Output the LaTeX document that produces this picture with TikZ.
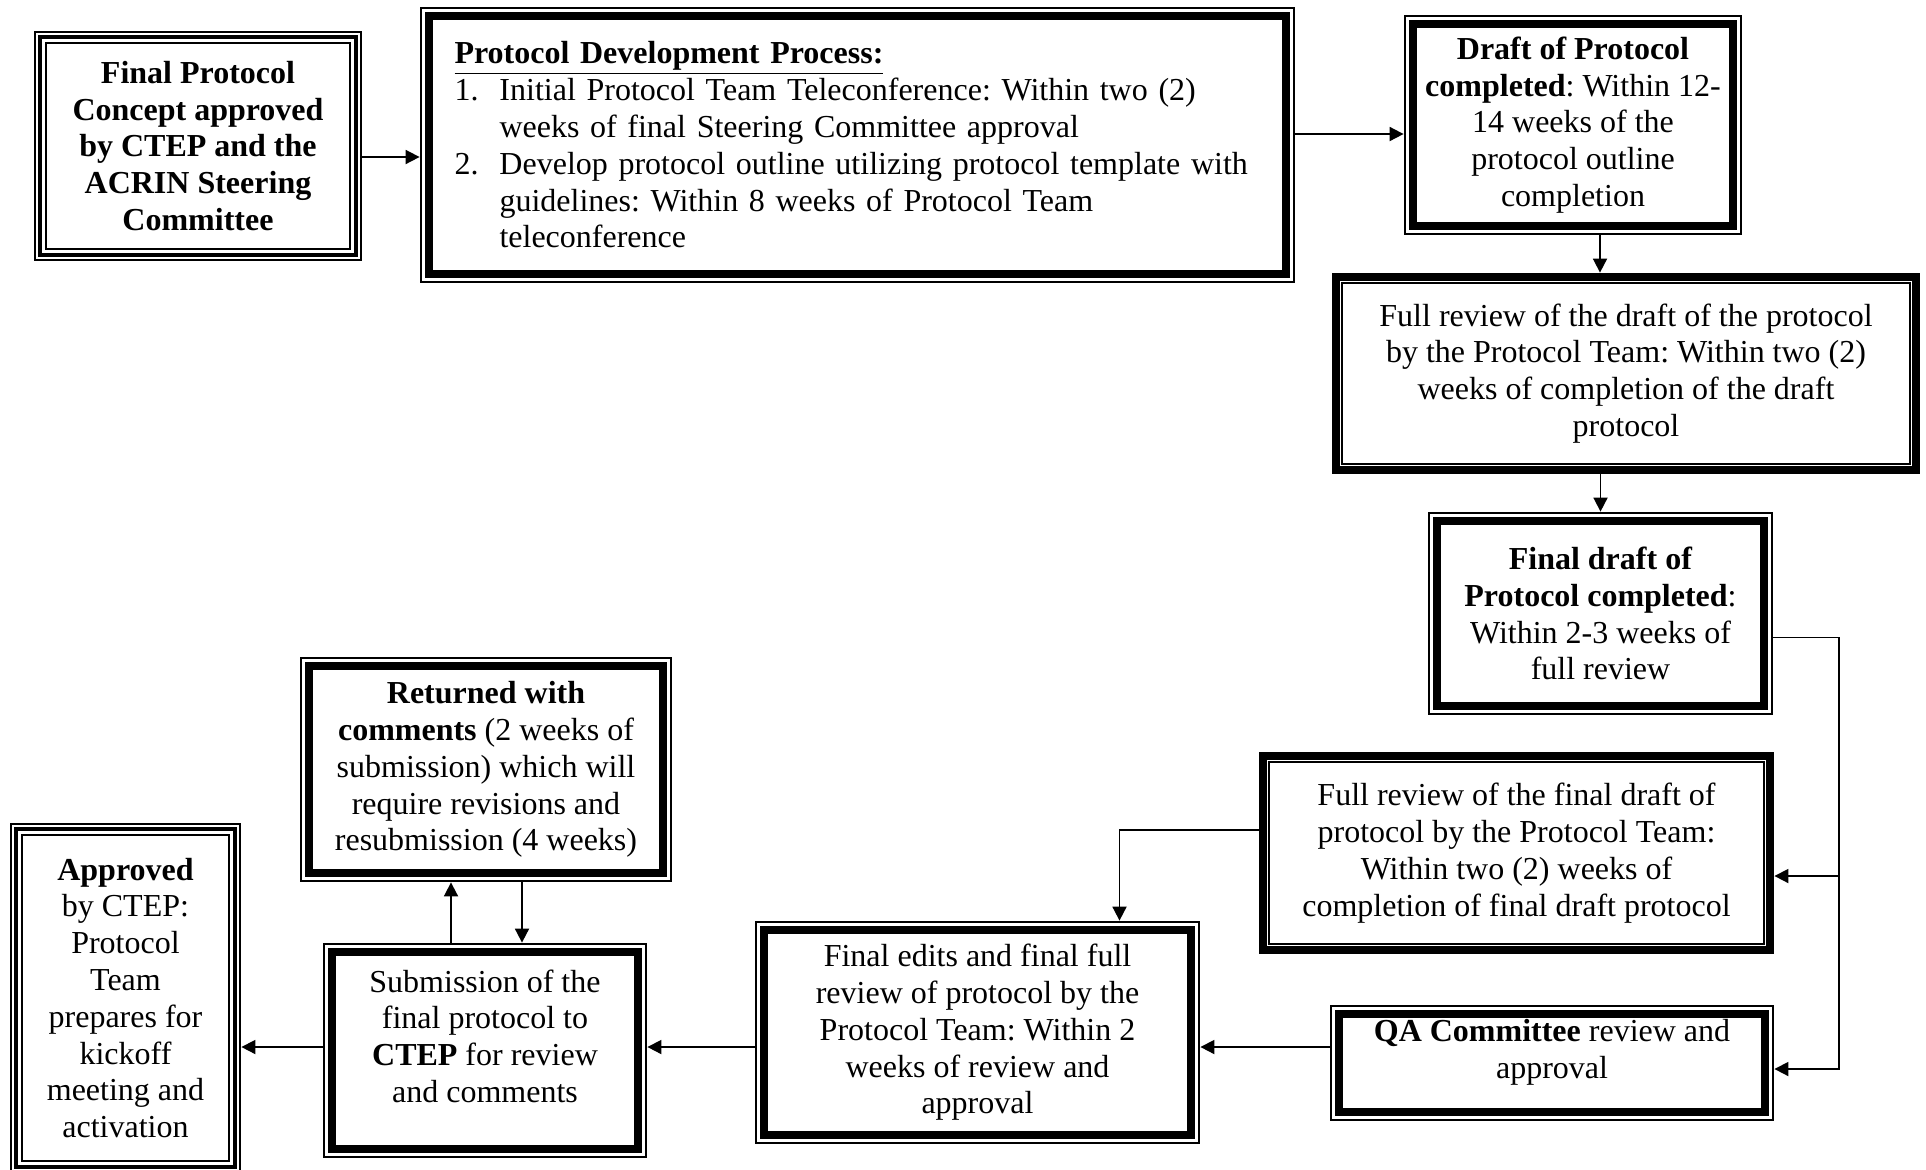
\documentclass[tikz,border=0pt]{standalone}
\usepackage{fontspec}
\setmainfont{Liberation Serif}
\usetikzlibrary{arrows.meta}

\newcommand{\inset}[3]{\draw[line width=#3] ([shift={(#2,-#2)}]#1.north west) rectangle ([shift={(-#2,#2)}]#1.south east);}

\tikzset{
  box/.style={draw=none, align=center, inner sep=0pt, font=\fontsize{16pt}{18.4pt}\selectfont\frenchspacing},
  arr/.style={-{Triangle[length=7pt,width=7pt]}, line width=0.9pt}
}

\begin{document}
\begin{tikzpicture}[x=0.5pt,y=-0.5pt]
                \path[use as bounding box, fill=white] (0,0) rectangle (1926,1169);

                \node[box, minimum width=164pt, minimum height=115pt] (concept) at (198,146)
                    {\textbf{Final Protocol}\\\textbf{Concept approved}\\\textbf{by CTEP and the}\\\textbf{ACRIN Steering}\\\textbf{Committee}};
                \node[box, minimum width=437.5pt, minimum height=138pt, text width=403pt, align=left] (process) at (857.5,145)
                    {\underline{\textbf{Protocol Development Process:}}\\
                     \makebox[22.5pt][l]{1.}Initial Protocol Team Teleconference: Within two (2)\\
                     \hspace*{22.5pt}weeks of final Steering Committee approval\\
                     \makebox[22.5pt][l]{2.}Develop protocol outline utilizing protocol template with\\
                     \hspace*{22.5pt}guidelines: Within 8 weeks of Protocol Team\\
                     \hspace*{22.5pt}teleconference};
                \node[box, minimum width=169pt, minimum height=110pt] (draft) at (1573,125)
                    {\textbf{Draft of Protocol}\\\textbf{completed}: Within 12-\\14 weeks of the\\protocol outline\\completion};
                \node[box, minimum width=294pt, minimum height=100.5pt] (review1) at (1626,373.5)
                    {Full review of the draft of the protocol\\by the Protocol Team: Within two (2)\\weeks of completion of the draft\\protocol};
                \node[box, minimum width=172.5pt, minimum height=101.5pt] (finaldraft) at (1600.5,613.5)
                    {\textbf{Final draft of}\\\textbf{Protocol completed}:\\Within 2-3 weeks of\\full review};
                \node[box, minimum width=257.5pt, minimum height=101pt] (review2) at (1516.5,853)
                    {Full review of the final draft of\\protocol by the Protocol Team:\\Within two (2) weeks of\\completion of final draft protocol};
                \node[box, minimum width=222pt, minimum height=58pt] (qa) at (1552,1063)
                    {\textbf{QA Committee} review and\\approval\\[-4pt]\mbox{}};
                \node[box, minimum width=222.5pt, minimum height=111.5pt] (finaledits) at (977.5,1032.5)
                    {Final edits and final full\\review of protocol by the\\Protocol Team: Within 2\\weeks of review and\\approval};
                \node[box, minimum width=162pt, minimum height=107.5pt] (submission) at (485,1050.5)
                    {Submission of the\\final protocol to\\\textbf{CTEP} for review\\and comments\\[-4pt]\mbox{}};
                \node[box, minimum width=186pt, minimum height=112.5pt] (returned) at (486,769.5)
                    {\textbf{Returned with}\\\textbf{comments} (2 weeks of\\submission) which will\\require revisions and\\resubmission (4 weeks)};
                \node[box, minimum width=115.5pt, minimum height=175pt] (approved) at (125.5,998)
                    {\textbf{Approved}\\by CTEP:\\Protocol\\Team\\prepares for\\kickoff\\meeting and\\activation};

                % frames
                \foreach \n in {concept,approved} {\inset{\n}{0.6pt}{1.2pt} \inset{\n}{3.2pt}{2.2pt} \inset{\n}{6.1pt}{1pt}}
                \foreach \n in {process,draft,finaldraft,qa,finaledits,submission,returned} {\inset{\n}{0.5pt}{1pt} \inset{\n}{4.7pt}{4.2pt}}
                \foreach \n in {review1,review2} {\inset{\n}{2pt}{4pt} \inset{\n}{5.25pt}{0.9pt}}

                \coordinate (row) at (0,1047);
                \coordinate (rail) at (1839,0);
                \coordinate (a1) at ([yshift=-5.5pt]concept.east);
                \coordinate (a2) at ([yshift=-4.5pt]draft.west);
                \coordinate (a3) at ([xshift=13.5pt]draft.south);
                \coordinate (a5) at ([yshift=-12pt]finaldraft.east);
                \coordinate (a6) at ([yshift=-11.5pt]review2.east);
                \coordinate (a7) at ([yshift=-3pt]qa.east);
                \coordinate (a8) at ([yshift=11.5pt]review2.west);
                \coordinate (a9) at ([xshift=71pt]finaledits.north);
                \coordinate (up) at ([xshift=-17pt]submission.north);
                \coordinate (dn) at ([xshift=18pt]returned.south);

                \draw[arr] (a1) -- (a1 -| process.west);
                \draw[arr] (process.east |- a2) -- (a2);
                \draw[arr] (a3) -- (a3 |- review1.north);
                \draw[arr] (review1.south -| finaldraft.north) -- (finaldraft.north);
                \draw[arr] (a5) -| (rail |- a7) -- (a7);
                \draw[arr] (rail |- a6) -- (a6);
                \draw[arr] (a8) -| (a9);
                \draw[arr] (qa.west |- row) -- (finaledits.east |- row);
                \draw[arr] (finaledits.west |- row) -- (submission.east |- row);
                \draw[arr] (submission.west |- row) -- (approved.east |- row);
                \draw[arr] (up) -- (up |- returned.south);
                \draw[arr] (dn) -- (dn |- submission.north);
            \end{tikzpicture}
\end{document}
